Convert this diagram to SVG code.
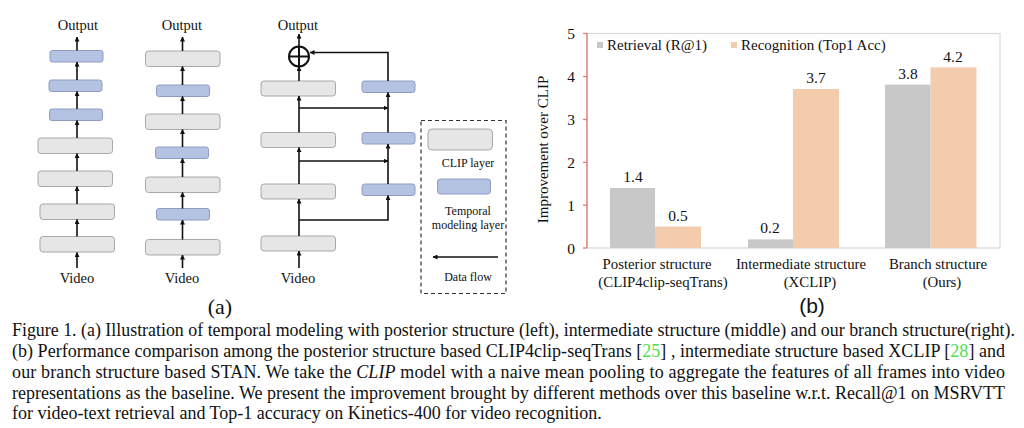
<svg xmlns="http://www.w3.org/2000/svg" width="1024" height="428" viewBox="0 0 1024 428">
<defs>
<marker id="ah" viewBox="0 0 10 10" refX="9" refY="5" markerWidth="5" markerHeight="5" orient="auto" markerUnits="userSpaceOnUse">
<path d="M0,0 L10,5 L0,10 Z" fill="#111"/>
</marker>
<style>
.t{font-family:"Liberation Serif","Times New Roman",serif;fill:#111}
.gb{fill:#e6e6e6;stroke:#a8a8a8;stroke-width:1}
.bb{fill:#b5c3e3;stroke:#8d9cc2;stroke-width:1}
.c{stroke:#111;stroke-width:1.6;fill:none}
.ca{stroke:#111;stroke-width:1.6;fill:none;marker-end:url(#ah)}
.cap{font-family:"Liberation Serif","Times New Roman",serif;font-size:18px;fill:#111}
.lbl{font-family:"Liberation Serif","Times New Roman",serif;font-size:14.5px;fill:#111;text-anchor:middle}
</style>
</defs>
<rect width="1024" height="428" fill="#fff"/>

<!-- Column 1: posterior -->
<g id="col1">
<text class="lbl" x="78" y="30">Output</text>
<rect class="bb" x="50" y="50.5" width="53" height="11.5" rx="2.5"/>
<rect class="bb" x="49" y="80" width="53" height="11.5" rx="2.5"/>
<rect class="bb" x="49.5" y="109" width="53" height="11.5" rx="2.5"/>
<rect class="gb" x="38" y="138" width="74.5" height="15.5" rx="3"/>
<rect class="gb" x="38" y="171" width="74.5" height="15.5" rx="3"/>
<rect class="gb" x="40" y="204" width="74.5" height="15.5" rx="3"/>
<rect class="gb" x="40" y="236.5" width="74.5" height="15.5" rx="3"/>
<text class="lbl" x="77" y="283">Video</text>
</g>

<!-- Column 2: intermediate -->
<g id="col2">
<text class="lbl" x="182" y="30">Output</text>
<rect class="gb" x="145.5" y="51" width="74.5" height="15.5" rx="3"/>
<rect class="bb" x="156.5" y="85" width="53" height="11.5" rx="2.5"/>
<rect class="gb" x="145.5" y="114" width="74.5" height="15.5" rx="3"/>
<rect class="bb" x="155.5" y="147" width="53" height="11.5" rx="2.5"/>
<rect class="gb" x="145.5" y="177" width="74.5" height="15.5" rx="3"/>
<rect class="bb" x="156.5" y="208.5" width="53" height="11.5" rx="2.5"/>
<rect class="gb" x="145.5" y="239.5" width="74.5" height="15.5" rx="3"/>
<text class="lbl" x="182" y="283">Video</text>
</g>

<!-- Column 3: branch -->
<g id="col3">
<text class="lbl" x="298" y="30">Output</text>
<g id="sum">
<circle cx="299" cy="56.5" r="10" fill="#fff" stroke="#111" stroke-width="2"/>
<line x1="289" y1="56.5" x2="309" y2="56.5" stroke="#111" stroke-width="2"/>
<line x1="299" y1="46.5" x2="299" y2="66.5" stroke="#111" stroke-width="2"/>
</g>
<rect class="gb" x="261" y="81" width="74.5" height="15" rx="3"/>
<rect class="gb" x="261" y="132.5" width="74.5" height="15" rx="3"/>
<rect class="gb" x="261" y="184" width="74.5" height="15" rx="3"/>
<rect class="gb" x="261" y="236" width="74.5" height="15" rx="3"/>
<rect class="bb" x="362" y="81" width="53" height="11.5" rx="2.5"/>
<rect class="bb" x="362" y="132.5" width="53" height="11.5" rx="2.5"/>
<rect class="bb" x="362" y="184" width="53" height="11.5" rx="2.5"/>
<text class="lbl" x="298" y="283">Video</text>
</g>

<!-- Legend -->
<g id="legend">
<rect x="421" y="120.5" width="85" height="173" fill="none" stroke="#333" stroke-width="1.2" stroke-dasharray="4 3"/>
<rect class="gb" x="428" y="129" width="64.5" height="21" rx="4"/>
<text class="t" x="468" y="167" font-size="12" text-anchor="middle">CLIP layer</text>
<rect class="bb" x="437.5" y="179" width="53" height="15" rx="3"/>
<text class="t" x="468" y="215" font-size="12" text-anchor="middle">Temporal</text>
<text class="t" x="468" y="228.5" font-size="12" text-anchor="middle">modeling layer</text>
<line class="ca" x1="498" y1="257" x2="433" y2="257"/>
<text class="t" x="468" y="281" font-size="12" text-anchor="middle">Data flow</text>
</g>

<!-- Connectors -->
<g id="connectors">
<line class="ca" x1="77" y1="268" x2="77" y2="252.5"/>
<line class="ca" x1="77" y1="236.5" x2="77" y2="219.5"/>
<line class="ca" x1="77" y1="204" x2="77" y2="186.5"/>
<line class="ca" x1="77" y1="171" x2="77" y2="153.5"/>
<line class="ca" x1="77" y1="138" x2="77" y2="120.5"/>
<line class="ca" x1="77" y1="109" x2="77" y2="91.5"/>
<line class="ca" x1="77" y1="80" x2="77" y2="62"/>
<line class="ca" x1="77" y1="50.5" x2="77" y2="37"/>

<line class="ca" x1="182.5" y1="268" x2="182.5" y2="255"/>
<line class="ca" x1="182.5" y1="239.5" x2="182.5" y2="220"/>
<line class="ca" x1="182.5" y1="208.5" x2="182.5" y2="192.5"/>
<line class="ca" x1="182.5" y1="177" x2="182.5" y2="158.5"/>
<line class="ca" x1="182.5" y1="147" x2="182.5" y2="129.5"/>
<line class="ca" x1="182.5" y1="114" x2="182.5" y2="96.5"/>
<line class="ca" x1="182.5" y1="85" x2="182.5" y2="66.5"/>
<line class="ca" x1="182.5" y1="51" x2="182.5" y2="37"/>

<line class="ca" x1="299" y1="268" x2="299" y2="251"/>
<line class="ca" x1="299" y1="236" x2="299" y2="199"/>
<line class="ca" x1="299" y1="184" x2="299" y2="147.5"/>
<line class="ca" x1="299" y1="132.5" x2="299" y2="96"/>
<line class="ca" x1="299" y1="81" x2="299" y2="66.5"/>
<line class="ca" x1="299" y1="46.5" x2="299" y2="34"/>
<polyline class="ca" points="299,220 388,220 388,195.5"/>
<line class="ca" x1="299" y1="161" x2="388" y2="161"/>
<line class="ca" x1="299" y1="108" x2="388" y2="108"/>
<line class="ca" x1="388" y1="184" x2="388" y2="144"/>
<line class="ca" x1="388" y1="132.5" x2="388" y2="92.5"/>
<polyline class="ca" points="388,81 388,52.5 310,52.5"/>
</g>

<text class="t" x="220" y="314" font-size="22" text-anchor="middle">(a)</text>

<!-- Chart -->
<g id="chart">
<rect x="587" y="33.5" width="413" height="214.5" fill="none" stroke="#d9d9d9" stroke-width="1.2"/>
<g id="bars">
<rect x="610" y="188" width="45" height="60" fill="#c8c8c8"/>
<rect x="655" y="226.5" width="46" height="21.5" fill="#f3cbad"/>
<rect x="748" y="239.4" width="45" height="8.6" fill="#c8c8c8"/>
<rect x="793" y="89" width="46" height="159" fill="#f3cbad"/>
<rect x="885" y="84.6" width="45.5" height="163.4" fill="#c8c8c8"/>
<rect x="930.5" y="67.4" width="46" height="180.6" fill="#f3cbad"/>
</g>
<line x1="587" y1="33.5" x2="587" y2="248" stroke="#e07a74" stroke-width="1.3"/>
<g stroke="#e07a74" stroke-width="1.3">
<line x1="583" y1="33.5" x2="587" y2="33.5"/>
<line x1="583" y1="76.5" x2="587" y2="76.5"/>
<line x1="583" y1="119.5" x2="587" y2="119.5"/>
<line x1="583" y1="162.4" x2="587" y2="162.4"/>
<line x1="583" y1="205.2" x2="587" y2="205.2"/>
<line x1="583" y1="248" x2="587" y2="248"/>
</g>
<g class="t" font-size="15.5" text-anchor="middle">
<text x="571" y="39">5</text>
<text x="571" y="82">4</text>
<text x="571" y="125">3</text>
<text x="571" y="168">2</text>
<text x="571" y="211">1</text>
<text x="571" y="253.5">0</text>
</g>
<text class="t" font-size="15" text-anchor="middle" transform="translate(548,149.5) rotate(-90)">Improvement over CLIP</text>
<rect x="597" y="42" width="6" height="6" fill="#c8c8c8"/>
<text class="t" x="607" y="50" font-size="15">Retrieval (R@1)</text>
<rect x="731" y="42" width="6" height="6" fill="#f3cbad"/>
<text class="t" x="741" y="50" font-size="15">Recognition (Top1 Acc)</text>
<g class="t" font-size="15.5" text-anchor="middle">
<text x="633" y="181.5">1.4</text>
<text x="678" y="220.5">0.5</text>
<text x="770" y="233">0.2</text>
<text x="816" y="83">3.7</text>
<text x="908" y="78.5">3.8</text>
<text x="953" y="62">4.2</text>
</g>
<g class="t" font-size="14.8" text-anchor="middle">
<text x="657" y="268.5">Posterior structure</text>
<text x="663" y="287">(CLIP4clip-seqTrans)</text>
<text x="801" y="268.5">Intermediate structure</text>
<text x="810" y="287">(XCLIP)</text>
<text x="938" y="268.5">Branch structure</text>
<text x="942" y="287">(Ours)</text>
</g>
</g>
<text x="812" y="313" font-family="Liberation Sans, Arial, sans-serif" font-size="21" fill="#111" text-anchor="middle">(b)</text>

<!-- Caption -->
<g id="caption">
<text class="cap" x="12" y="336" textLength="1003" lengthAdjust="spacingAndGlyphs">Figure 1. (a) Illustration of temporal modeling with posterior structure (left), intermediate structure (middle) and our branch structure(right).</text>
<text class="cap" x="12" y="357" textLength="993" lengthAdjust="spacing">(b) Performance comparison among the posterior structure based CLIP4clip-seqTrans [<tspan fill="#4fe04f">25</tspan>] , intermediate structure based XCLIP [<tspan fill="#4fe04f">28</tspan>] and</text>
<text class="cap" x="12" y="377.5" textLength="993" lengthAdjust="spacing">our branch structure based STAN. We take the <tspan font-style="italic">CLIP</tspan> model with a naive mean pooling to aggregate the features of all frames into video</text>
<text class="cap" x="12" y="398.5" textLength="993" lengthAdjust="spacing">representations as the baseline. We present the improvement brought by different methods over this baseline w.r.t. Recall@1 on MSRVTT</text>
<text class="cap" x="12" y="419">for video-text retrieval and Top-1 accuracy on Kinetics-400 for video recognition.</text>
</g>
</svg>
